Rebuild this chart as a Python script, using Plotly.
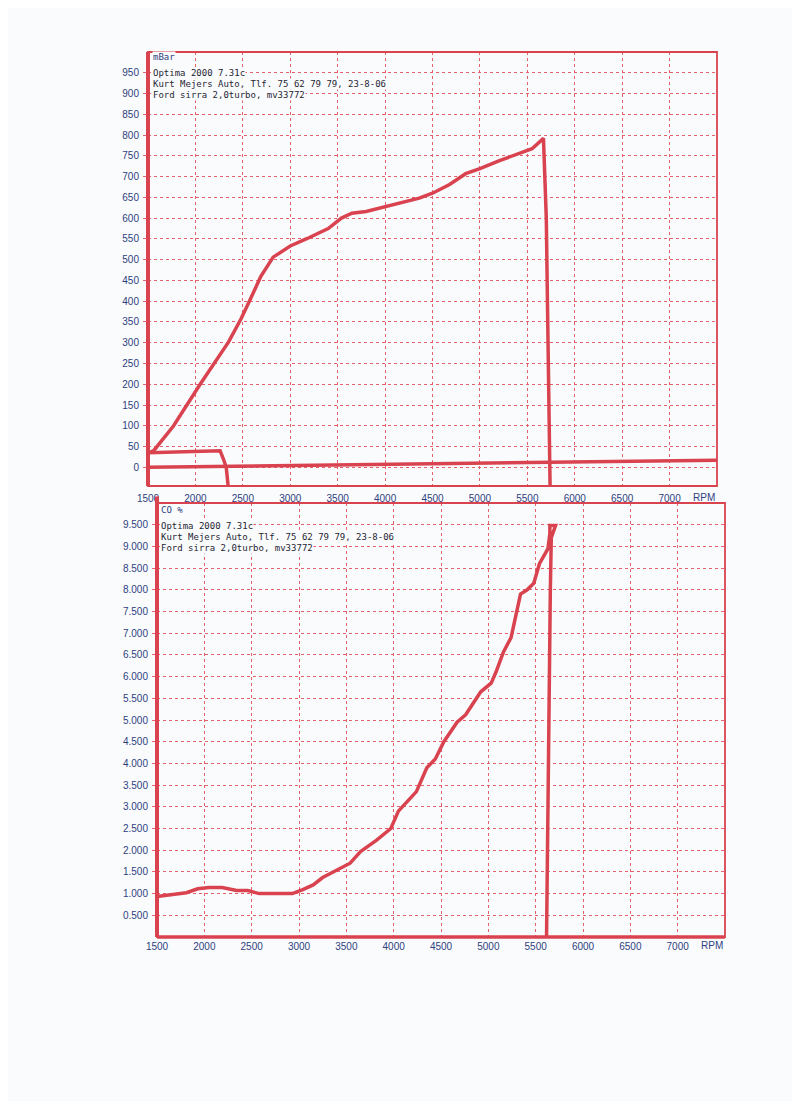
import plotly.graph_objects as go

# ---------------- data ----------------
# Top chart: boost pressure (mBar) vs RPM
boost_rpm = [1520, 1560, 1770, 2050, 2350, 2480, 2580, 2690, 2820, 3000, 3180, 3400, 3540, 3650,
             3800, 3970, 4150, 4360, 4500, 4680, 4850, 5000, 5200, 5370, 5550, 5670,
             5685, 5700, 5712, 5722, 5730, 5740]
boost_mbar = [36, 40, 100, 200, 302, 357, 405, 460, 506, 533, 551, 575, 600, 612,
              616, 626, 636, 648, 660, 681, 707, 719, 738, 752, 767, 792,
              710, 600, 400, 200, 0, -45]

# Low secondary trace in top chart
low_rpm = [1500, 1750, 2000, 2260, 2295, 2325, 2345]
low_mbar = [35, 37, 38, 40, 20, 0, -45]

# Near-zero baseline trace in top chart
base_rpm = [1500, 7500]
base_mbar = [0, 17]

# Bottom chart: CO % vs RPM
co_rpm = [1500, 1700, 1810, 1930, 2050, 2190, 2340, 2460, 2580, 2760, 2930, 3040, 3150, 3250,
          3430, 3540, 3650, 3820, 3970, 4050, 4240, 4350, 4440, 4530, 4670, 4760, 4920,
          5030, 5080, 5160, 5240, 5340, 5410, 5480, 5540, 5590, 5630, 5650,
          5650, 5710, 5665, 5655, 5645, 5635, 5625, 5615]
co_pct = [0.93, 0.98, 1.02, 1.11, 1.14, 1.14, 1.07, 1.07, 1.00, 1.00, 1.00, 1.09, 1.20, 1.37,
          1.57, 1.70, 1.97, 2.23, 2.50, 2.90, 3.35, 3.90, 4.10, 4.50, 4.95, 5.12, 5.65,
          5.85, 6.10, 6.57, 6.90, 7.90, 8.00, 8.15, 8.60, 8.80, 8.95, 9.30,
          9.48, 9.48, 9.20, 8.00, 6.00, 4.00, 2.00, 0.00]

x_ticks = [1500, 2000, 2500, 3000, 3500, 4000, 4500, 5000, 5500, 6000, 6500, 7000]
top_y_ticks = list(range(0, 1000, 50))
bot_y_ticks = [0.5 * i for i in range(1, 20)]
bot_y_text = [f"{v:.3f}" for v in bot_y_ticks]

header_lines = ["Optima 2000 7.31c",
                "Kurt Mejers Auto, Tlf. 75 62 79 79, 23-8-06",
                "Ford sirra 2,0turbo, mv33772"]

# ---------------- style ----------------
W, H = 800, 1101
OFF = 8  # page body margin compensation
BG = "#fafbfd"
RED = "#d9434f"
GRID = "#e4606b"
NAVY = "#2e3f80"
TXT = "#262633"

def px_x(p):
    return (p - OFF) / W

def px_y(p):
    return 1 - (p - OFF) / H

# pixel frames (target page coordinates)
TOP = dict(l=148, r=717, t=52, b=486)
BOT = dict(l=157, r=725, t=503, b=937)

fig = go.Figure()

fig.add_trace(go.Scatter(x=base_rpm, y=base_mbar, mode="lines",
                         line=dict(color=RED, width=3.5), xaxis="x", yaxis="y"))
fig.add_trace(go.Scatter(x=low_rpm, y=low_mbar, mode="lines",
                         line=dict(color=RED, width=3.5), xaxis="x", yaxis="y"))
fig.add_trace(go.Scatter(x=boost_rpm, y=boost_mbar, mode="lines",
                         line=dict(color=RED, width=3.5), xaxis="x", yaxis="y"))
fig.add_trace(go.Scatter(x=co_rpm, y=co_pct, mode="lines",
                         line=dict(color=RED, width=3.5), xaxis="x2", yaxis="y2"))

tickfont = dict(family="Liberation Sans, Arial", size=10, color=NAVY)

common_x = dict(range=[1500, 7500], tickvals=x_ticks, showgrid=True, gridcolor=GRID,
                griddash="dot", gridwidth=1, zeroline=False, tickfont=tickfont,
                ticks="", showline=False, automargin=False)
common_y = dict(showgrid=True, gridcolor=GRID, griddash="dot", gridwidth=1, zeroline=False,
                tickfont=tickfont, ticks="outside", ticklen=4, tickcolor=GRID,
                showline=False, automargin=False)

fig.update_layout(
    width=W, height=H,
    margin=dict(l=0, r=0, t=0, b=0),
    paper_bgcolor=BG, plot_bgcolor=BG,
    showlegend=False,
    xaxis=dict(domain=[px_x(TOP["l"]), px_x(TOP["r"])], anchor="y",
               ticklabelstandoff=5, **common_x),
    yaxis=dict(domain=[px_y(TOP["b"]), px_y(TOP["t"])], anchor="x",
               range=[-45, 1000], tickvals=top_y_ticks, ticklabelstandoff=2, **common_y),
    xaxis2=dict(domain=[px_x(BOT["l"]), px_x(BOT["r"])], anchor="y2",
                ticklabelstandoff=2, **common_x),
    yaxis2=dict(domain=[px_y(BOT["b"]), px_y(BOT["t"])], anchor="x2",
                range=[0, 10], tickvals=bot_y_ticks, ticktext=bot_y_text,
                ticklabelstandoff=2, **common_y),
)

# thin frames
for xr, yr in (("x", "y"), ("x2", "y2")):
    fig.add_shape(type="rect", xref=f"{xr} domain", yref=f"{yr} domain", x0=0, x1=1, y0=0, y1=1,
                  line=dict(color=RED, width=1.8), layer="above")
# thick left axis lines
fig.add_shape(type="line", xref="x domain", yref="y domain", x0=0, x1=0, y0=0, y1=1,
              line=dict(color=RED, width=4), layer="above")
fig.add_shape(type="line", xref="x2 domain", yref="y2 domain", x0=0, x1=0, y0=0, y1=1.015,
              line=dict(color=RED, width=4), layer="above")
# thick bottom axis line, lower chart
fig.add_shape(type="line", xref="x2 domain", yref="y2 domain", x0=0, x1=1, y0=0, y1=0,
              line=dict(color=RED, width=3.5), layer="above")

mono = dict(family="DejaVu Sans Mono, Liberation Mono, monospace", size=9, color=TXT)

def header(unit, left_px, top_px):
    fig.add_annotation(x=px_x(left_px), y=px_y(top_px), xref="paper", yref="paper",
                       text=unit, showarrow=False, xanchor="left", yanchor="middle",
                       font=dict(family=mono["family"], size=9, color=NAVY), bgcolor=BG, borderpad=0)
    for i, line in enumerate(header_lines):
        fig.add_annotation(x=px_x(left_px), y=px_y(top_px + 16 + 11 * i), xref="paper", yref="paper",
                           text=line, showarrow=False, xanchor="left", yanchor="middle",
                           font=mono, bgcolor=BG, borderpad=0)

header("mBar", 152, 57)
header("CO %", 160, 510)

# RPM labels
fig.add_annotation(x=7500, y=0, xref="x", yref="y domain", text="RPM", showarrow=False,
                   xanchor="right", yanchor="top", yshift=-4, font=tickfont)
fig.add_annotation(x=7500, y=0, xref="x2", yref="y2 domain", text="RPM", showarrow=False,
                   xanchor="right", yanchor="top", yshift=-1, font=tickfont)

fig.write_html("out.html")
